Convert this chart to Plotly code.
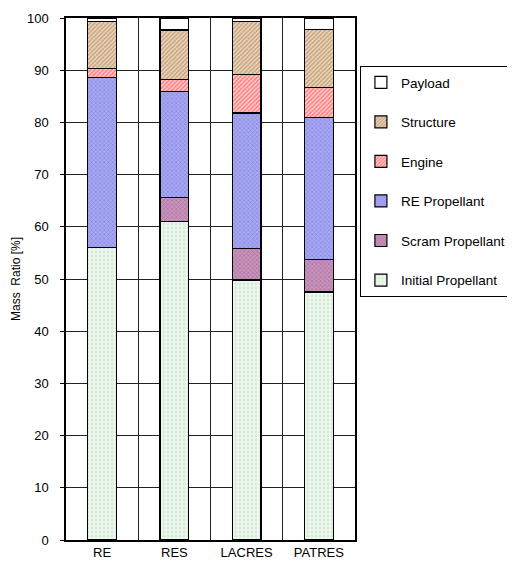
import plotly.graph_objects as go

categories = ["RE", "RES", "LACRES", "PATRES"]
initial_prop = [56.0, 61.0, 49.8, 47.5]
scram_prop = [0.0, 4.6, 6.0, 6.3]
re_prop = [32.6, 20.3, 26.0, 27.2]
engine = [1.7, 2.3, 7.4, 5.7]
structure = [9.0, 9.5, 10.1, 11.1]
payload = [0.7, 2.3, 0.7, 2.2]

series = [
    ("Initial Propellant", initial_prop, "#f0f9f0", "#b8dcb8", ".", 4, 0.4, 6),
    ("Scram Propellant", scram_prop, "#c894bc", "#985888", "x", 3, 0.45, 5),
    ("RE Propellant", re_prop, "#a8a8f2", "#7070dc", "x", 3, 0.45, 4),
    ("Engine", engine, "#ffd0d0", "#ff2828", "/", 3, 0.5, 3),
    ("Structure", structure, "#eed8bc", "#9a6c44", "/", 3, 0.5, 2),
    ("Payload", payload, "#ffffff", "#ffffff", "", 4, 0.4, 1),
]

fig = go.Figure()
for name, vals, bg, fg, shape, sz, sol, rank in series:
    fig.add_trace(go.Bar(
        x=categories, y=vals, name=name, legendgroup=name, legendrank=rank,
        marker=dict(color=bg, line=dict(color="black", width=1.2),
                    pattern=dict(shape=shape, bgcolor=bg, fgcolor=fg, size=sz, solidity=sol)),
    ))

# the page body has an 8px margin, so the figure is drawn 8px smaller
fig.update_layout(
    barmode="stack", bargap=0.6,
    width=507, height=562,
    margin=dict(l=58, r=160, t=9.5, b=30, autoexpand=False),
    paper_bgcolor="white", plot_bgcolor="white",
    font=dict(family="Liberation Sans, Arial, sans-serif", size=12, color="black"),
    legend=dict(
        x=1.017, xanchor="left", y=0.908, yanchor="top",
        traceorder="grouped", tracegroupgap=19,
        bordercolor="black", borderwidth=1, bgcolor="white",
        font=dict(size=13.5), itemwidth=30,
    ),
    showlegend=True,
)
fig.update_xaxes(
    type="category", tickson="boundaries", showgrid=True, gridcolor="#222222", gridwidth=1,
    showline=True, linecolor="black", linewidth=1.5, mirror=True, ticks="",
    tickfont=dict(size=13),
)
fig.update_yaxes(
    range=[0, 100], dtick=10, showgrid=True, gridcolor="#222222", gridwidth=1,
    showline=True, linecolor="black", linewidth=1.5, mirror=True,
    ticks="outside", ticklen=4, tickcolor="black", ticklabelstandoff=9,
    title=dict(text="Mass  Ratio [%]", font=dict(size=12), standoff=4),
    tickfont=dict(size=13), zeroline=False,
)

fig.write_html("out.html")
